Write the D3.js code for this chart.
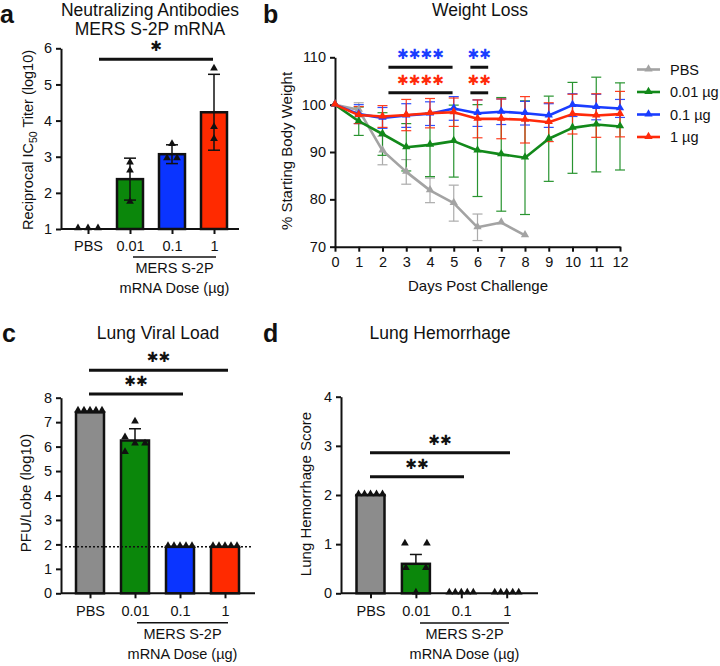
<!DOCTYPE html>
<html><head><meta charset="utf-8">
<script src="https://cdn.jsdelivr.net/npm/d3@7"></script>
<style>
body{margin:0;background:#fff}
text{font-family:"Liberation Sans",Arial,Helvetica,sans-serif;fill:#111}
</style>
</head><body>
<svg id="fig" width="720" height="666"></svg>
<script>
// ---------------- DATA ----------------
const doseCategories = ["PBS", "0.01", "0.1", "1"];
const groupColors = ["#8c8c8c", "#0b870b", "#0a34ff", "#ff2a00"];

// panel a: neutralizing antibodies (log10 reciprocal IC50)
const nabMeans = [1, 2.38, 3.07, 4.23];
const nabSD = [0, 0.58, 0.26, 1.05];
const nabPoints = [[1, 1, 1], [2.82, 2.6, 1.73], [3.33, 2.94, 2.94], [5.42, 3.8, 3.47]];
const nabTicks = [1, 2, 3, 4, 5, 6];

// panel b: weight loss (% starting body weight)
const days = [0, 1, 2, 3, 4, 5, 6, 7, 8, 9, 10, 11, 12];
const weightPBS = [100, 98.9, 90.3, 85.8, 81.9, 79.2, 74.1, 75.1, 72.4];
const weightPBSsd = [0, 1.5, 3.0, 2.6, 2.6, 3.8, 2.8, 0, 0];
const weightLow = [100, 96.5, 93.8, 91.0, 91.5, 92.3, 90.3, 89.5, 88.8, 92.8, 95.1, 95.8, 95.4];
const weightLowSD = [0, 3.0, 4.5, 5.0, 6.7, 7.6, 9.7, 12.0, 12.0, 9.0, 9.6, 10.0, 9.2];
const weightMid = [100, 98.0, 97.2, 97.7, 98.1, 99.2, 98.2, 98.5, 98.2, 97.7, 99.9, 99.5, 99.2];
const weightMidSD = [0, 2.0, 2.2, 2.5, 2.5, 2.5, 2.8, 2.7, 2.5, 2.5, 2.4, 2.7, 1.9];
const weightHigh = [100, 97.8, 97.5, 97.8, 98.2, 98.4, 97.0, 97.0, 96.8, 96.3, 98.0, 97.7, 98.0];
const weightHighSD = [0, 1.8, 2.3, 3.3, 3.1, 3.0, 4.0, 4.2, 4.9, 4.1, 4.2, 4.6, 4.8];
const weightLegend = ["PBS", "0.01 µg", "0.1 µg", "1 µg"];
const weightTicks = [70, 80, 90, 100, 110];

// panel c: lung viral load (log10 PFU/lobe)
const viralMeans = [7.4, 6.25, 1.9, 1.9];
const viralSEM = [0.05, 0.48, 0, 0];
const viralPoints = [[7.45, 7.45, 7.45, 7.45, 7.45], [7.0, 6.35, 5.75, 6.1, 6.1], [1.9, 1.9, 1.9, 1.9, 1.9], [1.9, 1.9, 1.9, 1.9, 1.9]];
const viralLimit = 1.9;
const viralTicks = [0, 1, 2, 3, 4, 5, 6, 7, 8];

// panel d: lung hemorrhage score
const hemMeans = [2, 0.6, 0, 0];
const hemSEM = [0, 0.19, 0, 0];
const hemPoints = [[2, 2, 2, 2, 2], [1, 1, 0.5, 0.5, 0], [0, 0, 0, 0, 0], [0, 0, 0, 0, 0]];
const hemTicks = [0, 1, 2, 3, 4];

// ---------------- DRAWING ----------------
const svg = d3.select("#fig");
const FONT = '"Liberation Sans",Arial,Helvetica,sans-serif';
const INK = "#111";
const tri = (s) => d3.symbol().type(d3.symbolTriangle).size(s)();

function panelLetter(x, y, t) {
  svg.append("text").attr("x", x).attr("y", y).attr("font-size", 25).attr("font-weight", "bold").text(t);
}
function title(x, y, t) {
  svg.append("text").attr("x", x).attr("y", y).attr("text-anchor", "middle").attr("font-size", 17.5).text(t);
}
function styleAxis(g) {
  g.attr("font-family", FONT).attr("font-size", 14.5);
  g.selectAll("path.domain").attr("stroke", INK).attr("stroke-width", 2);
  g.selectAll(".tick line").attr("stroke", INK).attr("stroke-width", 2);
  g.selectAll(".tick text").attr("fill", INK);
}
function sig(x1, x2, yBar, n, color) {
  svg.append("line").attr("x1", x1).attr("x2", x2).attr("y1", yBar).attr("y2", yBar)
    .attr("stroke", INK).attr("stroke-width", 3);
  svg.append("text").attr("x", (x1 + x2) / 2).attr("y", yBar - 13 + 5)
    .attr("text-anchor", "middle").attr("font-size", 14).attr("font-weight", "bold")
    .style("font-family", '"DejaVu Sans",sans-serif')
    .style("fill", color || INK).text("\u2731".repeat(n));
}
function doseLabel(x1, x2, yLine) {
  svg.append("line").attr("x1", x1).attr("x2", x2).attr("y1", yLine).attr("y2", yLine)
    .attr("stroke", INK).attr("stroke-width", 1.5);
  const cx = (x1 + x2) / 2;
  svg.append("text").attr("x", cx).attr("y", yLine + 16).attr("text-anchor", "middle").attr("font-size", 14.5).text("MERS S-2P");
  svg.append("text").attr("x", cx).attr("y", yLine + 36).attr("text-anchor", "middle").attr("font-size", 14.5).text("mRNA Dose (µg)");
}

function barPanel(cfg) {
  const x = d3.scalePoint().domain(doseCategories).range(cfg.xRange);
  const y = d3.scaleLinear().domain(cfg.yDomain).range(cfg.yRange);
  const base = cfg.yDomain[0];
  const ya = svg.append("g").attr("transform", `translate(${cfg.axisX},0)`)
    .call(d3.axisLeft(y).tickValues(cfg.ticks).tickSize(5).tickSizeOuter(0).tickPadding(4).tickFormat(d3.format("d")));
  styleAxis(ya);
  const xa = svg.append("g").attr("transform", `translate(0,${cfg.yRange[0]})`)
    .call(d3.axisBottom(x).tickSize(5).tickPadding(7));
  styleAxis(xa);
  xa.select("path.domain").remove();
  svg.append("line").attr("x1", cfg.axisX).attr("x2", cfg.axisEnd)
    .attr("y1", cfg.yRange[0]).attr("y2", cfg.yRange[0]).attr("stroke", INK).attr("stroke-width", 2);

  const bw = cfg.barWidth;
  const gb = svg.append("g");
  if (!cfg.errOverBars) {
    cfg.means.forEach((m, i) => {
      if (!cfg.err[i]) return;
      const cx = x(doseCategories[i]);
      gb.append("line").attr("x1", cx).attr("x2", cx).attr("y1", y(m)).attr("y2", y(m + cfg.err[i])).attr("stroke", INK).attr("stroke-width", 1.5);
      gb.append("line").attr("x1", cx - 6).attr("x2", cx + 6).attr("y1", y(m + cfg.err[i])).attr("y2", y(m + cfg.err[i])).attr("stroke", INK).attr("stroke-width", 1.5);
    });
  }
  cfg.means.forEach((m, i) => {
    if (m <= base) return;
    gb.append("rect").attr("x", x(doseCategories[i]) - bw / 2).attr("y", y(m))
      .attr("width", bw).attr("height", y(base) - y(m))
      .attr("fill", groupColors[i]).attr("stroke", INK).attr("stroke-width", 2.5);
  });
  if (cfg.limit !== undefined) {
    svg.append("line").attr("x1", cfg.axisX + 4).attr("x2", cfg.axisEnd - 2)
      .attr("y1", y(cfg.limit)).attr("y2", y(cfg.limit))
      .attr("stroke", INK).attr("stroke-width", 1.5).attr("stroke-dasharray", "2,2");
  }
  if (cfg.errOverBars) {
    cfg.means.forEach((m, i) => {
      if (!cfg.err[i]) return;
      const cx = x(doseCategories[i]);
      const lo = Math.max(base, m - cfg.err[i]), hi = m + cfg.err[i];
      gb.append("line").attr("x1", cx).attr("x2", cx).attr("y1", y(lo)).attr("y2", y(hi)).attr("stroke", INK).attr("stroke-width", 1.5);
      [lo, hi].forEach(v => gb.append("line").attr("x1", cx - 6).attr("x2", cx + 6).attr("y1", y(v)).attr("y2", y(v)).attr("stroke", INK).attr("stroke-width", 1.5));
    });
  }
  cfg.points.forEach((pts, i) => {
    const offs = cfg.jitter[i];
    pts.forEach((v, j) => {
      svg.append("path").attr("d", tri(cfg.markerSize))
        .attr("transform", `translate(${x(doseCategories[i]) + offs[j]},${y(v) - 1})`)
        .attr("fill", INK);
    });
  });
  return { x, y };
}

// ===== Panel a =====
panelLetter(0, 23, "a");
title(150, 16, "Neutralizing Antibodies");
title(150, 35, "MERS S-2P mRNA");
const pa = barPanel({
  xRange: [88, 214], yDomain: [1, 6], yRange: [229, 48.3], axisX: 61, axisEnd: 239,
  ticks: nabTicks, means: nabMeans, err: nabSD, errOverBars: true, points: nabPoints,
  barWidth: 26, markerSize: 26,
  jitter: [[-10, 0, 10], [0, 0, 0], [0, -5, 5], [0, 0, 0]]
});
{
  const t = svg.append("text").attr("transform", "translate(33,140) rotate(-90)")
    .attr("text-anchor", "middle").attr("font-size", 14.5);
  t.append("tspan").text("Reciprocal IC");
  t.append("tspan").attr("font-size", 10.5).attr("dy", 4).text("50");
  t.append("tspan").attr("dy", -4).text(" Titer (log10)");
}
sig(99, 213, pa.y(5.7), 1);
doseLabel(133, 216, 257);

// ===== Panel b =====
panelLetter(263, 23, "b");
title(480, 16, "Weight Loss");
{
  const x = d3.scaleLinear().domain([0, 12]).range([335, 620]);
  const y = d3.scaleLinear().domain([70, 110]).range([246.7, 57.3]);
  const ya = svg.append("g").attr("transform", "translate(335,0)")
    .call(d3.axisLeft(y).tickValues(weightTicks).tickSize(5).tickSizeOuter(0).tickPadding(4));
  styleAxis(ya);
  const xa = svg.append("g").attr("transform", "translate(0,246.7)")
    .call(d3.axisBottom(x).tickValues(days).tickSize(5).tickSizeOuter(0).tickPadding(5).tickFormat(d3.format("d")));
  styleAxis(xa);
  svg.append("text").attr("transform", "translate(292,151) rotate(-90)").attr("text-anchor", "middle")
    .attr("font-size", 15).text("% Starting Body Weight");
  svg.append("text").attr("x", 478).attr("y", 291).attr("text-anchor", "middle")
    .attr("font-size", 15).text("Days Post Challenge");

  const series = [
    { v: weightPBS, sd: weightPBSsd, c: "#a3a3a3" },
    { v: weightLow, sd: weightLowSD, c: "#12891a" },
    { v: weightMid, sd: weightMidSD, c: "#1a3dff" },
    { v: weightHigh, sd: weightHighSD, c: "#ff2a0a" }
  ];
  series.forEach(s => {
    s.v.forEach((m, i) => {
      if (!s.sd[i]) return;
      const cx = x(days[i]);
      const g = svg.append("g").attr("stroke", s.c).attr("stroke-width", 1.2).attr("opacity", 0.9);
      g.append("line").attr("x1", cx).attr("x2", cx).attr("y1", y(m - s.sd[i])).attr("y2", y(m + s.sd[i]));
      [m - s.sd[i], m + s.sd[i]].forEach(v =>
        g.append("line").attr("x1", cx - 5).attr("x2", cx + 5).attr("y1", y(v)).attr("y2", y(v)));
    });
  });
  const line = d3.line().x((d, i) => x(days[i])).y(d => y(d));
  series.forEach(s => {
    svg.append("path").attr("d", line(s.v)).attr("fill", "none").attr("stroke", s.c)
      .attr("stroke-width", 2.6).attr("stroke-linejoin", "round");
    s.v.forEach((m, i) => svg.append("path").attr("d", tri(30))
      .attr("transform", `translate(${x(days[i])},${y(m) - 0.5})`).attr("fill", s.c));
  });
  series.forEach((s, i) => {
    const ly = 69.5 + i * 22.5;
    svg.append("line").attr("x1", 637).attr("x2", 660).attr("y1", ly).attr("y2", ly)
      .attr("stroke", s.c).attr("stroke-width", 2.6);
    svg.append("path").attr("d", tri(30)).attr("transform", `translate(648.5,${ly - 0.5})`).attr("fill", s.c);
    svg.append("text").attr("x", 670).attr("y", ly + 5.3).attr("font-size", 14.5).text(weightLegend[i]);
  });
  sig(x(2.25), x(4.95), y(107.9), 4, "#1a3dff");
  sig(x(5.7), x(6.45), y(107.9), 2, "#1a3dff");
  sig(x(2.25), x(4.95), y(102.5), 4, "#ff2a0a");
  sig(x(5.7), x(6.45), y(102.5), 2, "#ff2a0a");
}

// ===== Panel c =====
panelLetter(2, 342, "c");
title(158, 339, "Lung Viral Load");
const pc = barPanel({
  xRange: [90, 225], yDomain: [0, 8], yRange: [593.3, 397.7], axisX: 61, axisEnd: 255,
  ticks: viralTicks, means: viralMeans, err: viralSEM, errOverBars: false, points: viralPoints,
  limit: viralLimit, barWidth: 28, markerSize: 26,
  jitter: [[-12, -6, 0, 6, 12], [0, -10, -10, 10, 0], [-12, -6, 0, 6, 12], [-12, -6, 0, 6, 12]]
});
svg.append("text").attr("transform", "translate(31,493) rotate(-90)").attr("text-anchor", "middle")
  .attr("font-size", 15).text("PFU/Lobe (log10)");
sig(89, 228, pc.y(9.12), 2);
sig(89, 183, pc.y(8.15), 2);
doseLabel(137, 228, 622.7);

// ===== Panel d =====
panelLetter(263, 342, "d");
title(440, 339, "Lung Hemorrhage");
const pd = barPanel({
  xRange: [370.5, 506.7], yDomain: [0, 4], yRange: [593.3, 396.7], axisX: 341, axisEnd: 538,
  ticks: hemTicks, means: hemMeans, err: hemSEM, errOverBars: false, points: hemPoints,
  barWidth: 28, markerSize: 26,
  jitter: [[-12, -6, 0, 6, 12], [-11, 11, -10, 10, 0], [-12, -6, 0, 6, 12], [-12, -6, 0, 6, 12]]
});
svg.append("text").attr("transform", "translate(311,494) rotate(-90)").attr("text-anchor", "middle")
  .attr("font-size", 15).text("Lung Hemorrhage Score");
sig(370, 510, pd.y(2.86), 2);
sig(370, 464, pd.y(2.37), 2);
doseLabel(420, 509, 623);
</script>
</body></html>
